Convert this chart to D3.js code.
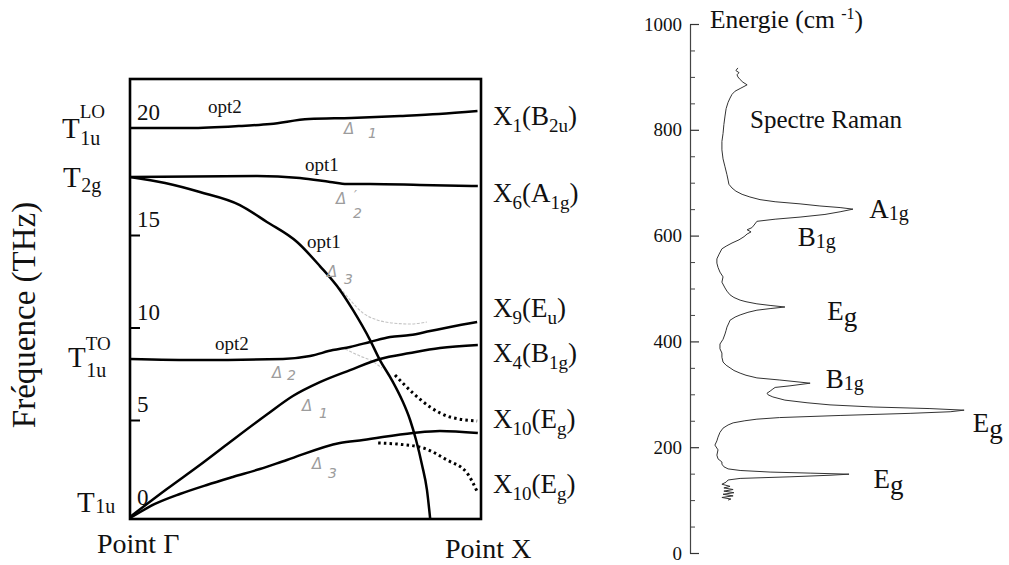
<!DOCTYPE html>
<html><head><meta charset="utf-8">
<script src="https://cdn.jsdelivr.net/npm/d3@7/dist/d3.min.js"></script>
</head><body style="margin:0;background:#fff">
<svg id="c" width="1009" height="565"></svg>
<script>
// ---------------- DATA ----------------
// Dispersion branches: k = reduced wave vector (Γ=0, X=1), f = frequency (THz)
const kLO   = [0, 0.17, 0.31, 0.40, 0.51, 0.63, 0.77, 0.88, 0.99];
const fLO   = [20.0, 20.0, 20.09, 20.19, 20.42, 20.47, 20.56, 20.65, 20.79];
const kOpt1Flat = [0, 0.362, 0.484, 0.570, 0.618, 0.684, 0.826, 0.991];
const fOpt1Flat = [17.71, 17.76, 17.66, 17.48, 17.38, 17.38, 17.34, 17.29];
const kOpt1Down = [0, 0.100, 0.199, 0.313, 0.390, 0.476, 0.541, 0.598, 0.635, 0.684, 0.712, 0.746, 0.775, 0.798, 0.815, 0.832, 0.846, 0.855];
const fOpt1Down = [17.71, 17.43, 17.01, 16.40, 15.61, 14.62, 13.32, 12.03, 10.95, 9.32, 8.24, 7.16, 6.08, 5.0, 3.92, 2.57, 1.22, -0.3];
const kTO   = [0, 0.199, 0.436, 0.513, 0.578, 0.627, 0.684, 0.741, 0.798, 0.855, 0.912, 0.989];
const fTO   = [8.30, 8.24, 8.30, 8.46, 8.78, 8.95, 9.22, 9.49, 9.59, 9.81, 10.03, 10.30];
const kAc1  = [0, 0.105, 0.199, 0.276, 0.390, 0.464, 0.541, 0.627, 0.712, 0.798, 0.883, 0.991];
const fAc1  = [-0.24, 1.27, 2.57, 3.68, 5.30, 6.30, 7.05, 7.70, 8.30, 8.62, 8.89, 9.05];
const kAc3  = [0, 0.071, 0.142, 0.219, 0.293, 0.370, 0.447, 0.598, 0.664, 0.806, 0.883, 0.991];
const fAc3  = [-0.3, 0.46, 1.0, 1.49, 1.92, 2.35, 2.84, 3.76, 3.92, 4.30, 4.41, 4.30];
const kDot1 = [0.755, 0.806, 0.855, 0.912, 0.989];
const fDot1 = [7.43, 6.46, 5.70, 5.16, 4.95];
const kDot2 = [0.707, 0.761, 0.835, 0.903, 0.960, 0.991];
const fDot2 = [3.76, 3.70, 3.49, 2.84, 2.14, 1.05];
const kGray1 = [0.598, 0.627, 0.664, 0.704, 0.749, 0.798, 0.846];
const fGray1 = [12.14, 11.49, 10.78, 10.41, 10.24, 10.19, 10.30];
const kGray2 = [0.613, 0.655, 0.684, 0.718];
const fGray2 = [8.84, 8.46, 8.24, 7.81];

const freqTickLabels = ["0", "5", "10", "15", "20"];
const freqTickValues = [0, 5, 10, 15, 20];

// Raman spectrum: energy (cm-1) and intensity (arb. units)
const ramanE = [100,102,105,108,111,114,117,120,123,126,130,134,138,141,144,147,149,151,153,156,159,163,168,172,178,185,195,204,212,219,228,236,242,246,250,253,256,260,264,267,270,273,276,280,284,289,295,299,302,306,310,313,316,321,324,327,331,336,340,345,350,355,361,370,378,386,395,404,414,421,427,435,440,446,450,455,459,462,465,468,471,475,478,483,488,495,501,512,522,531,540,548,556,565,575,580,586,592,598,603,607,611,615,620,627,631,635,640,645,650,653,656,660,664,668,673,678,684,690,697,705,715,730,745,762,778,793,810,826,840,852,860,867,873,878,885,890,895,900,904,908,912,917];
const ramanI = [13.6,14.6,11.4,15.4,11.8,15.7,12.1,15.4,12.1,14.3,11.4,12.9,13.6,17.9,35.7,50,56.8,42.9,28.6,17.9,13.6,12.1,11.4,11.4,10,9.6,10,8.9,9.6,10,10.7,11.8,13.6,15.4,19.6,23.9,32,53.6,78.6,92.9,97.9,85.7,65.4,50,41.8,33.9,29.6,27.9,27.5,28.6,29.6,30.4,35.7,42.9,37.5,32.1,23.9,20,17.9,15.7,14.3,12.9,11.8,11.4,11.4,10.7,10.7,11.8,12.5,12.9,13.2,13.9,14.3,16.1,17.9,20.7,23.9,28.6,33.9,28.6,23.9,20,17.9,15.7,14.3,13.2,12.5,11.4,11.8,10.7,10,9.6,9.6,10.4,11.4,12.9,15,17.5,19.3,20.4,21.8,20.4,22.1,22.9,23.9,30.4,39.3,48.2,53.6,58.2,53.6,46.4,39.3,30.4,25,21.4,18.6,16.4,15,13.9,13.6,13.2,12.5,11.8,11.4,11.4,11.8,12.1,12.5,12.9,13.6,14.3,15,16.1,17.9,20.4,18.9,17.9,17.1,16.8,17.5,16.4,17.1];
const energyTicks = [0, 200, 400, 600, 800, 1000];
const peakNames = ["A", "B", "E", "B", "E", "E"];
const peakSubs  = ["1g", "1g", "g", "1g", "g", "g"];
const peakEnergy = [650, 610, 465, 321, 270, 149];

// ---------------- DRAWING ----------------
const FAM = '"Liberation Serif"';
const svg = d3.select("#c");
svg.append("rect").attr("width",1009).attr("height",565).attr("fill","#fff");

function txt(g, px, py, size, s){
  const t = g.append("text").attr("x",px).attr("y",py)
    .style("font-family",FAM).style("font-size",size+"px").style("fill","#111");
  if(s!==undefined) t.text(s);
  return t;
}
function span(t, size, dy, s){
  return t.append("tspan").attr("dy",dy).style("font-size",size+"px").text(s);
}

const box = {l:130, r:481, t:79, b:519};
const x = d3.scaleLinear().domain([0,1]).range([box.l, box.r]);
const y = d3.scaleLinear().domain([0,15,20]).range([512.5,235,128]);

const zip = (ks, fs) => ks.map((k,i)=>({k, f:fs[i]}));
const line = d3.line().x(d=>x(d.k)).y(d=>y(d.f)).curve(d3.curveMonotoneX);

const L = svg.append("g");
L.append("rect").attr("x",box.l).attr("y",box.t).attr("width",box.r-box.l).attr("height",box.b-box.t)
 .attr("fill","none").attr("stroke","#000").attr("stroke-width",2.6);

L.append("g").attr("transform",`translate(${box.l},0)`)
 .call(d3.axisRight(y).tickValues([5,10,15]).tickSize(10).tickFormat(""))
 .call(g=>{g.select(".domain").remove(); g.selectAll("line").attr("stroke","#000").attr("stroke-width",2);});

freqTickValues.forEach((v,i)=>txt(L, box.l+7, y(v)-8, 23, freqTickLabels[i]));

[[kGray1,fGray1],[kGray2,fGray2]].forEach(([ks,fs])=>{
  L.append("path").attr("d",line(zip(ks,fs))).attr("fill","none").attr("stroke","#c4c4c4")
   .attr("stroke-width",1.1).attr("stroke-dasharray","3,1.5");
});
[[kLO,fLO],[kOpt1Flat,fOpt1Flat],[kOpt1Down,fOpt1Down],[kTO,fTO],[kAc1,fAc1],[kAc3,fAc3]].forEach(([ks,fs])=>{
  L.append("path").attr("d",line(zip(ks,fs))).attr("fill","none").attr("stroke","#000")
   .attr("stroke-width",2.5).attr("stroke-linejoin","round");
});
[[kDot1,fDot1],[kDot2,fDot2]].forEach(([ks,fs])=>{
  L.append("path").attr("d",line(zip(ks,fs))).attr("fill","none").attr("stroke","#000")
   .attr("stroke-width",3).attr("stroke-dasharray","2.5,3.2");
});

const optLab = [["opt2",208,113],["opt1",305,171],["opt1",307,248],["opt2",215,350]];
optLab.forEach(([t,px,py])=>txt(L, px, py, 19, t));

const deltas = [["Δ","1",344,134,368,138],["Δ","2",336,204,353,218],["Δ","3",327,277,344,284],
                ["Δ","2",272,378,287,380],["Δ","1",302,411,319,418],["Δ","3",312,469,328,478]];
function gray(px,py,size,s){
  return L.append("text").attr("x",px).attr("y",py).style("font-family",'"DejaVu Sans"')
    .style("font-size",size+"px").style("font-style","italic").style("fill","#9c9c9c").text(s);
}
deltas.forEach(([d,n,ax,ay,bx,by])=>{ gray(ax,ay,15,d); gray(bx,by,14,n); });
gray(354,199,13,"′");

function tLabel(px, base, sub, subDy, sup, supBase){
  const t = txt(L, px, base, 29, "T");
  const w = t.node().getComputedTextLength();
  txt(L, px+w+0.5, base+subDy, 20, sub);
  if(sup) txt(L, px+w, supBase, 19, sup);
}
tLabel(62, y(20)+10, "1u", 7, "LO", y(20)-10);
tLabel(63, y(17.71)+10, "2g", 5, null, 0);
tLabel(68, y(8.30)+8, "1u", 10, "TO", y(8.30)-9);
tLabel(77, y(0)-1, "1u", 1, null, 0);

const xLabels = [
  [["X",0],["1",1],["(B",0],["2u",1],[")",0]],
  [["X",0],["6",1],["(A",0],["1g",1],[")",0]],
  [["X",0],["9",1],["(E",0],["u",1],[")",0]],
  [["X",0],["4",1],["(B",0],["1g",1],[")",0]],
  [["X",0],["10",1],["(E",0],["g",1],[")",0]],
  [["X",0],["10",1],["(E",0],["g",1],[")",0]]
];
const xLabelAt = [20.14, 16.54, 10.57, 8.14, 4.57, 1.05];
xLabels.forEach((parts,i)=>{
  const t = txt(L, 493, y(xLabelAt[i]), 27);
  let cur = 0;
  parts.forEach(([s,sub])=>{
    const target = sub?7:0;
    span(t, sub?19:27, target-cur, s);
    cur = target;
  });
});

txt(L, 0, 0, 33, "Fréquence (THz)").attr("x",null).attr("y",null)
 .attr("transform","translate(35,315) rotate(-90)").attr("text-anchor","middle");
txt(L, 97, 553, 28, "Point Γ");
txt(L, 445, 558, 28, "Point X");

// ---------------- Raman panel ----------------
const R = svg.append("g");
const ey = d3.scaleLinear().domain([0,1000]).range([553,24]);
const ix = d3.scaleLinear().domain([0,100]).range([690,970]);
const ax0 = 690;

R.append("g").attr("transform",`translate(${ax0},0)`)
 .call(d3.axisLeft(ey).tickValues(d3.range(0,1001,50).filter(v=>v%200!==0)).tickSizeInner(-5).tickSizeOuter(0).tickFormat(""))
 .call(g=>{g.select(".domain").attr("stroke","#444").attr("stroke-width",1.2);g.selectAll("line").attr("stroke","#444");});
R.append("g").attr("transform",`translate(${ax0},0)`)
 .call(d3.axisLeft(ey).tickValues(energyTicks).tickFormat(d3.format("d")).tickSizeInner(-9).tickSizeOuter(0).tickPadding(8))
 .call(g=>{g.attr("font-family",null).attr("font-size",null); g.select(".domain").remove();
   g.selectAll("line").attr("stroke","#333").attr("stroke-width",1.2);
   g.selectAll("text").style("font-family",FAM).style("font-size","19px").style("fill","#111");});

const spec = d3.line().x(d=>ix(d.i)).y(d=>ey(d.e));
R.append("path").attr("d",spec(ramanE.map((e,j)=>({e, i:ramanI[j]}))))
 .attr("fill","none").attr("stroke","#333").attr("stroke-width",1);

const tt = txt(R, 710, 28, 25.5);
span(tt, 25.5, 0, "Energie (cm ");
span(tt, 16, -9, "-1");
span(tt, 25.5, 9, ")");
txt(R, 750, 128, 25, "Spectre Raman");

const peakLayout = [[64,9],[38.5,16],[49,13],[48.5,5],[101,22],[65.5,14]];
peakNames.forEach((n,i)=>{
  const [li, dyb] = peakLayout[i];
  const t = txt(R, ix(li), ey(peakEnergy[i])+dyb, 27);
  span(t, 27, 0, n);
  const isG = peakSubs[i]==="g";
  span(t, isG?27:20, isG?6:2, peakSubs[i]);
});
</script>
</body></html>
